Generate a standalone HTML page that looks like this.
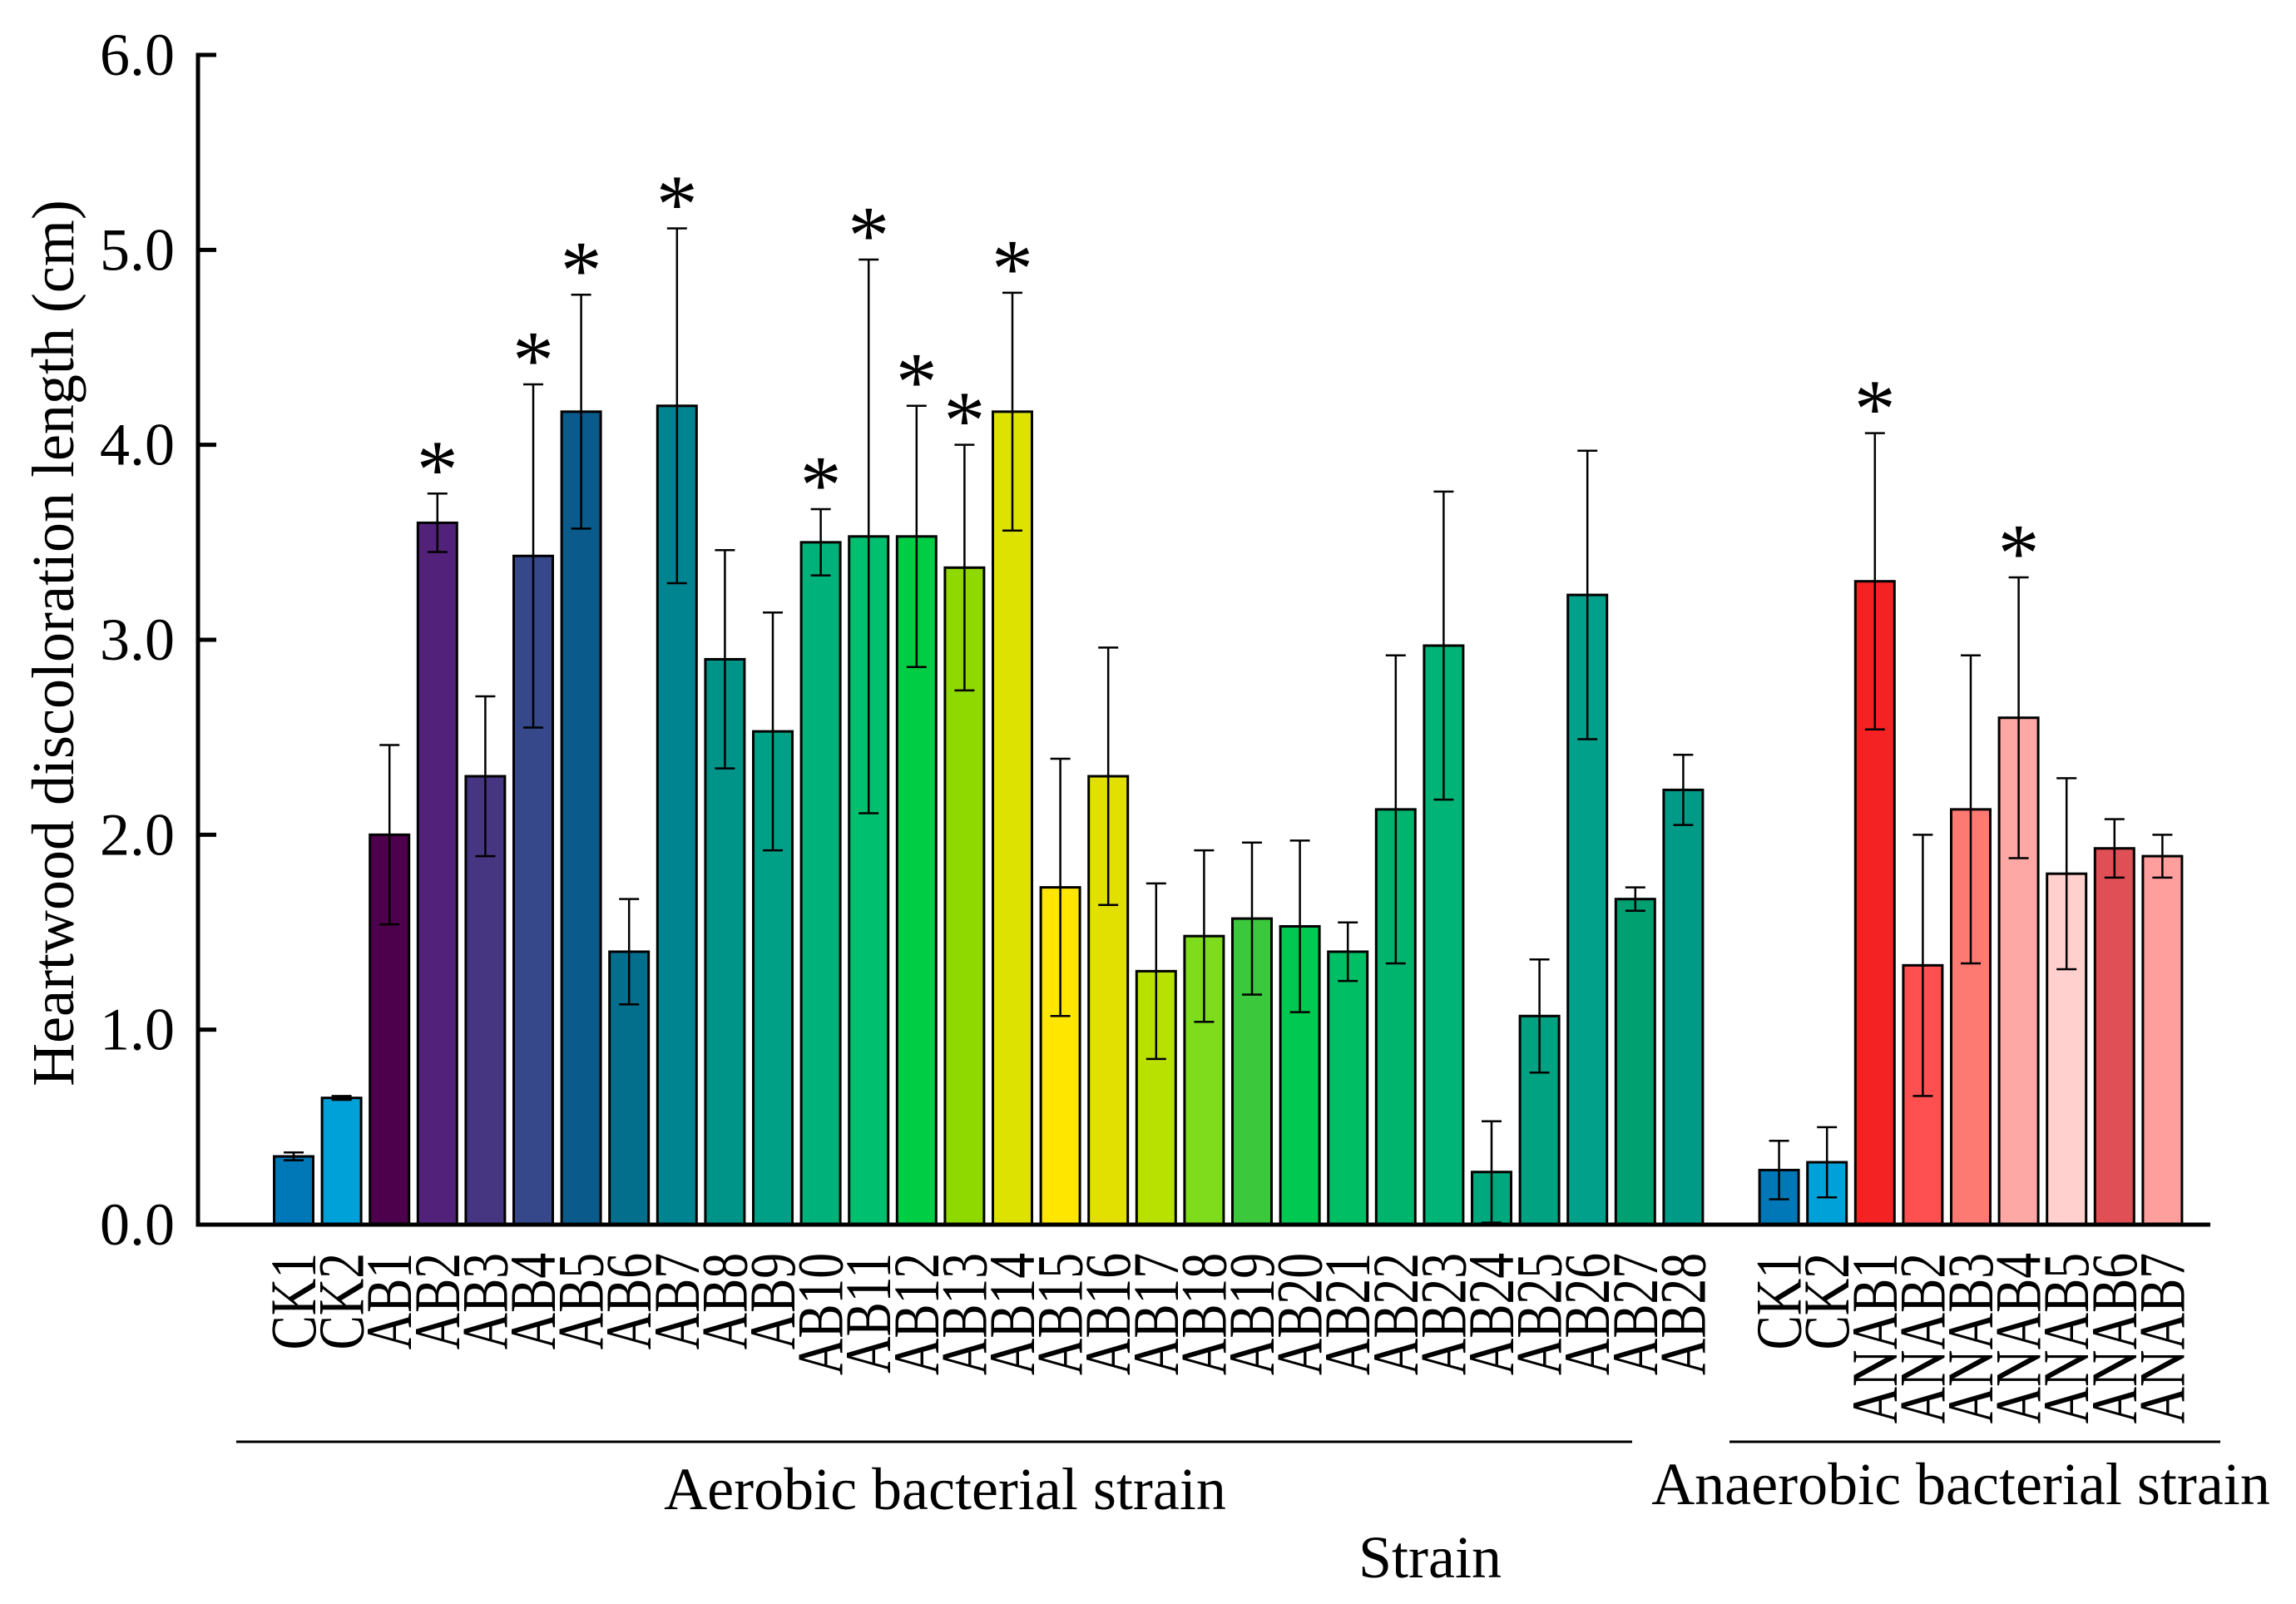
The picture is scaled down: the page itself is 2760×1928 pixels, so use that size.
<!DOCTYPE html>
<html><head><meta charset="utf-8"><style>
html,body{margin:0;padding:0;background:#fff;}
svg{display:block;font-family:"Liberation Serif",serif;}
</style></head><body>
<svg id="chart" width="2760" height="1928" viewBox="0 0 2760 1928" xmlns="http://www.w3.org/2000/svg">
<g id="bars"></g>
<g id="axes"></g>
<text transform="translate(88,773) rotate(-90)" text-anchor="middle" font-size="72">Heartwood discoloration length (cm)</text>
<line x1="284" y1="1733" x2="1962" y2="1733" stroke="#000" stroke-width="3"/>
<line x1="2079" y1="1733" x2="2669" y2="1733" stroke="#000" stroke-width="3"/>
<text x="1136" y="1814" text-anchor="middle" font-size="72">Aerobic bacterial strain</text>
<text x="2357" y="1808" text-anchor="middle" font-size="72">Anaerobic bacterial strain</text>
<text x="1719" y="1896" text-anchor="middle" font-size="72">Strain</text>
</svg>
<script>
const categories = ["CK1","CK2","AB1","AB2","AB3","AB4","AB5","AB6","AB7","AB8","AB9","AB10","AB11","AB12","AB13","AB14","AB15","AB16","AB17","AB18","AB19","AB20","AB21","AB22","AB23","AB24","AB25","AB26","AB27","AB28","","CK1","CK2","ANAB1","ANAB2","ANAB3","ANAB4","ANAB5","ANAB6","ANAB7"];
const values = [0.35,0.65,2.0,3.6,2.3,3.43,4.17,1.4,4.2,2.9,2.53,3.5,3.53,3.53,3.37,4.17,1.73,2.3,1.3,1.48,1.57,1.53,1.4,2.13,2.97,0.27,1.07,3.23,1.67,2.23,null,0.28,0.32,3.3,1.33,2.13,2.6,1.8,1.93,1.89];
const errors = [0.02,0.01,0.46,0.15,0.41,0.88,0.6,0.27,0.91,0.56,0.61,0.17,1.42,0.67,0.63,0.61,0.66,0.66,0.45,0.44,0.39,0.44,0.15,0.79,0.79,0.26,0.29,0.74,0.06,0.18,null,0.15,0.18,0.76,0.67,0.79,0.72,0.49,0.15,0.11];
const significant = [0,0,0,1,0,1,1,0,1,0,0,1,1,1,1,1,0,0,0,0,0,0,0,0,0,0,0,0,0,0,0,0,0,1,0,0,1,0,0,0];
const colors = ["#0077b6","#00a0d8","#4d004b","#52217a","#463580","#36478a","#0b5a8c","#036f8c","#008490","#009489","#00a087","#00b27a","#00bf6f","#00cc44","#8fd800","#dde200","#ffe600","#e2e000","#b8e000","#7fdc1c","#3cc83c","#00c850","#00be64","#00b46e","#00b478","#00a87d","#00a282","#00a08a","#00a070","#009b87","","#0077b6","#00a0d8","#f42222","#fe5050","#fd7a72","#fea8a5","#ffd0cd","#e04f55","#fe9f9e"];
const yTicks = [0,1,2,3,4,5,6];
const yTickLabels = ["0.0","1.0","2.0","3.0","4.0","5.0","6.0"];

const NS="http://www.w3.org/2000/svg";
const X0=238, Y0=1472, YMAX=66, BW=47;
function y(v){return Y0-(v/6)*(Y0-YMAX);}
function x(i){return 353+i*57.6;}
function mk(tag,attrs,parent){const e=document.createElementNS(NS,tag);for(const k in attrs)e.setAttribute(k,attrs[k]);parent.appendChild(e);return e;}
const bars=document.getElementById('bars'), axes=document.getElementById('axes');
categories.forEach((c,i)=>{
  if(values[i]===null) return;
  const cx=x(i), v=values[i], e=errors[i];
  const r=mk('rect',{x:cx-BW/2,y:y(v),width:BW,height:Y0-y(v),fill:colors[i],stroke:'#000','stroke-width':3},bars);
  
  
  const eb=mk('path',{d:`M${cx},${y(v+e)}V${y(v-e)}M${cx-12},${y(v+e)}H${cx+12}M${cx-12},${y(v-e)}H${cx+12}`,stroke:'#000','stroke-width':2.5,fill:'none'},bars);
  
  
  if(significant[i]){
    const s=mk('text',{x:cx,y:y(v+e)+4,'text-anchor':'middle','font-size':100},bars);
    s.textContent='*';
    
    
  }
  const t=mk('text',{transform:`translate(${cx+26},1506) rotate(-90) scale(0.88,1.12)`,'text-anchor':'end','font-size':70},axes);
  t.textContent=c;
  
  
});
const ya=mk('path',{d:`M${X0+22},${YMAX}H${X0}V${Y0}H2657`,stroke:'#000','stroke-width':5,fill:'none'},axes);


yTicks.forEach((v,i)=>{
  const tk=mk('line',{x1:X0,x2:X0+22,y1:y(v),y2:y(v),stroke:'#000','stroke-width':5},axes);
  
  
  const tl=mk('text',{x:210,y:y(v)+24,'text-anchor':'end','font-size':72},axes);
  tl.textContent=yTickLabels[i];
  
  
});
</script>
</body></html>
